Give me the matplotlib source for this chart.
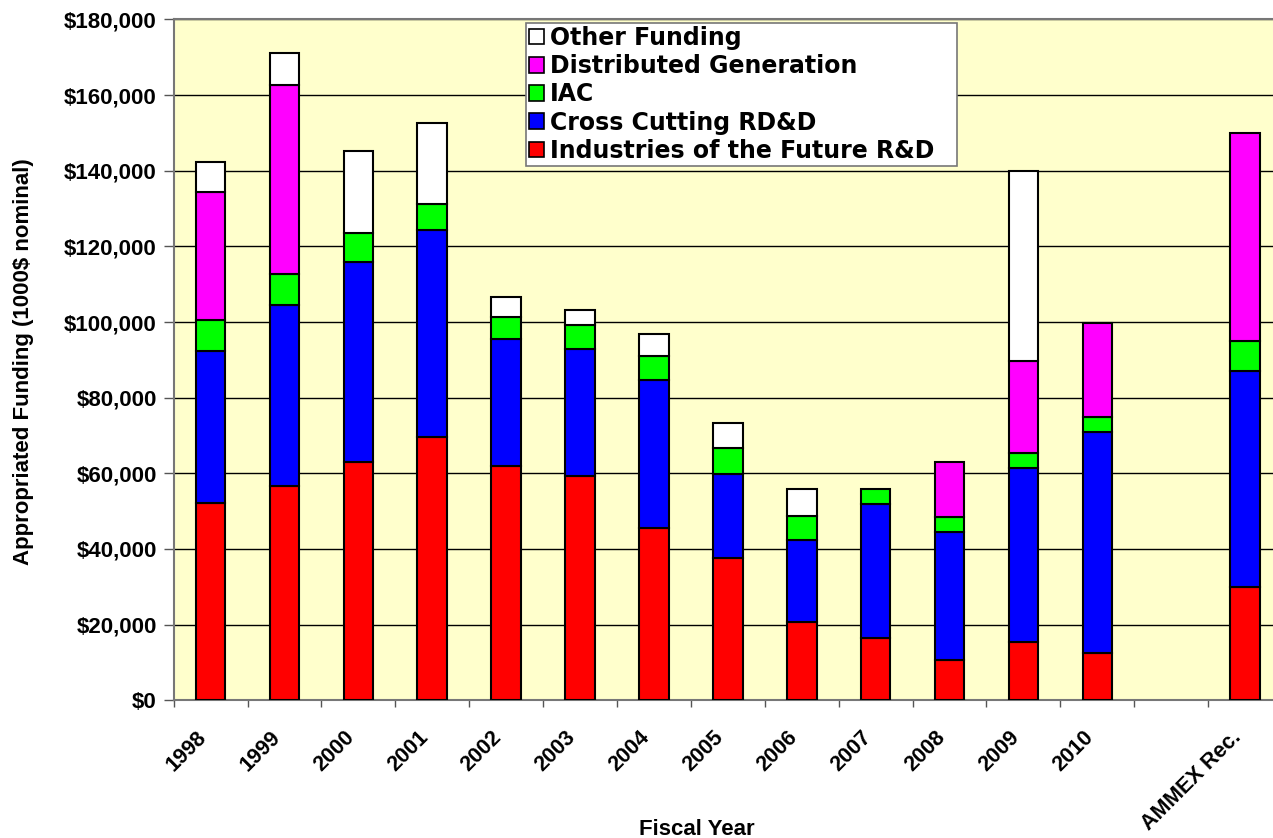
import numpy as np
import matplotlib
matplotlib.use('Agg')
import matplotlib.pyplot as plt
import matplotlib.transforms as mtransforms
from matplotlib.ticker import FuncFormatter, MultipleLocator
from matplotlib.patches import Patch

plt.rcParams['font.family'] = ['Liberation Sans', 'DejaVu Sans']
plt.rcParams['font.weight'] = 'bold'

years = ['1998', '1999', '2000', '2001', '2002', '2003', '2004', '2005',
         '2006', '2007', '2008', '2009', '2010', '', 'AMMEX Rec.']

# funding in 1000$
industries = [52200, 56600, 63000, 69700, 61900, 59300, 45500, 37500, 20800, 16600, 10700, 15500, 12600, 0, 30000]
cross_cut = [40100, 47900, 52800, 54600, 33500, 33600, 39200, 22300, 21500, 35200, 33900, 46000, 58300, 0, 57000]
iac = [8200, 8200, 7600, 6800, 5800, 6300, 6200, 6900, 6400, 4000, 3800, 3900, 4000, 0, 8000]
dist_gen = [33900, 50000, 0, 0, 0, 0, 0, 0, 0, 0, 14600, 24400, 24900, 0, 55000]
other = [7800, 8300, 21800, 21600, 5500, 4000, 6000, 6700, 7200, 0, 0, 50000, 0, 0, 0]

series = [
    ('Industries of the Future R&D', industries, '#FF0000'),
    ('Cross Cutting RD&D', cross_cut, '#0000FF'),
    ('IAC', iac, '#00FF00'),
    ('Distributed Generation', dist_gen, '#FF00FF'),
    ('Other Funding', other, '#FFFFFF'),
]

fig = plt.figure(figsize=(12.73, 8.38), dpi=100)
ax = fig.add_axes([0.1364, 0.1643, 0.8707, 0.8126])
ax.set_facecolor('#FFFFCC')

x = np.arange(len(years))
bottom = np.zeros(len(years))
handles = []
for name, vals, col in series:
    v = np.array(vals, dtype=float)
    m = v > 0
    ax.bar(x[m], v[m], width=0.4, bottom=bottom[m], color=col,
           edgecolor='black', linewidth=1.5, zorder=3)
    bottom += v
    handles.append(Patch(facecolor=col, edgecolor='black', linewidth=1.2, label=name))

ax.set_ylim(0, 180000)
ax.set_xlim(-0.5, len(years) - 0.5)
ax.yaxis.set_major_locator(MultipleLocator(20000))
ax.yaxis.set_major_formatter(FuncFormatter(lambda v, p: '${:,.0f}'.format(v)))
ax.grid(axis='y', color='black', linewidth=1.0, zorder=1)

ax.set_xticks(x)
ax.set_xticklabels(years, rotation=45, ha='right', fontsize=15.5, fontweight='bold')
shift = mtransforms.ScaledTranslation(-6 / 100, 0, fig.dpi_scale_trans)
for t in ax.get_xticklabels():
    t.set_transform(t.get_transform() + shift)
ax.set_xticks(np.arange(len(years)) - 0.5, minor=True)
ax.tick_params(axis='x', which='major', length=0, pad=19)
ax.tick_params(axis='x', which='minor', length=5, width=1, color='#555555')
ax.tick_params(axis='y', length=7, width=1, color='#555555', labelsize=16, pad=5)
for t in ax.get_yticklabels():
    t.set_fontweight('bold')

for s in ax.spines.values():
    s.set_color('#777777')
    s.set_linewidth(1.5)

fig.text(23.5 / 1273, 1 - 362 / 838, 'Appropriated Funding (1000$ nominal)', rotation=90,
         ha='center', va='center', fontsize=16, fontweight='bold')
fig.text(697 / 1273, 1 - 829 / 838, 'Fiscal Year', ha='center', va='center',
         fontsize=16, fontweight='bold')

# legend box: 526..957 px wide, 23..165 px tall
leg = ax.legend(handles=handles[::-1], loc='upper left', mode='expand',
                bbox_to_anchor=(526 / 1273, 1 - 165 / 838, 431 / 1273, 142 / 838),
                bbox_transform=fig.transFigure,
                prop={'family': 'DejaVu Sans', 'size': 17, 'weight': 'bold'},
                fancybox=False, shadow=False,
                framealpha=1, edgecolor='#777777', borderpad=0.12, labelspacing=0.18,
                handlelength=0.65, handleheight=0.65, handletextpad=0.25, borderaxespad=0)
leg.get_frame().set_linewidth(1.2)
leg.set_zorder(5)

fig.savefig('out.png', dpi=100)
